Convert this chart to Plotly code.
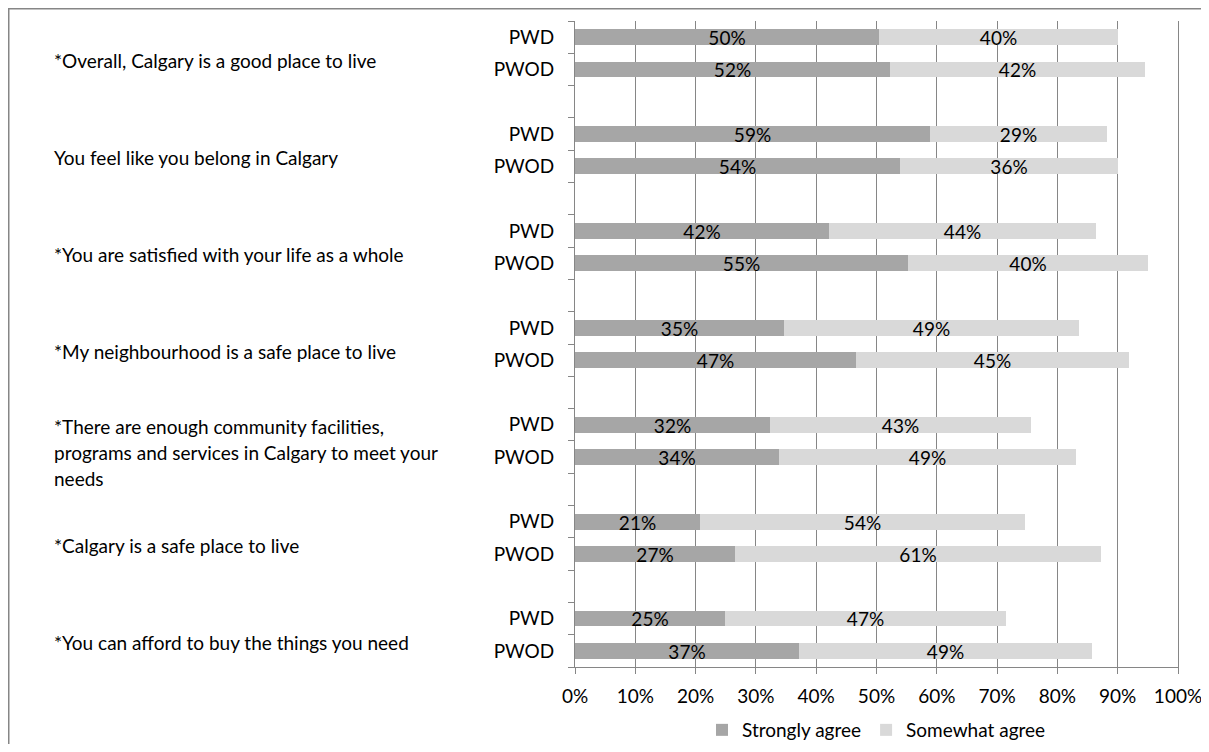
import plotly.graph_objects as go

statements = [
    "*Overall, Calgary is a good place to live",
    "You feel like you belong in Calgary",
    "*You are satisfied with your life as a whole",
    "*My neighbourhood is a safe place to live",
    "*There are enough community facilities,<br>programs and services in Calgary to meet your<br>needs",
    "*Calgary is a safe place to live",
    "*You can afford to buy the things you need",
]
groups = ["PWD", "PWOD"]
pwd_strong = [50.4, 58.8, 42.1, 34.6, 32.3, 20.8, 24.8]
pwd_somewhat = [39.7, 29.4, 44.3, 49.0, 43.4, 53.9, 46.6]
pwod_strong = [52.2, 53.9, 55.2, 46.6, 33.9, 26.6, 37.2]
pwod_somewhat = [42.3, 36.2, 39.8, 45.3, 49.2, 60.7, 48.6]
series_names = ["Strongly agree", "Somewhat agree"]
colors = ["#A6A6A6", "#D9D9D9"]
x_ticks = [0, 10, 20, 30, 40, 50, 60, 70, 80, 90, 100]

FONT = "Lato"
FS = 19
n = len(statements)
slots = 3 * n - 1

pos_pwd = [3 * g for g in range(n)]
pos_pwod = [3 * g + 1 for g in range(n)]
ys = pos_pwd + pos_pwod
strong = pwd_strong + pwod_strong
somewhat = pwd_somewhat + pwod_somewhat

fig = go.Figure()
for name, vals, col in zip(series_names, [strong, somewhat], colors):
    fig.add_trace(go.Bar(
        name=name, orientation="h", y=ys, x=vals,
        marker=dict(color=col, line=dict(width=0)), width=0.49,
        text=[f"{v:.0f}%" for v in vals], textposition="inside",
        insidetextanchor="middle", constraintext="none", textangle=0,
        textfont=dict(family=FONT, size=FS, color="black"),
    ))

tickvals = []
ticktext = []
for g in range(n):
    tickvals += [pos_pwd[g], pos_pwod[g]]
    ticktext += groups

# page body has an 8px margin, so the figure is drawn 8px in from the window edge
W, H = 1193, 736
L, R, T, B = 567, 23, 13, 77
pw = W - L - R
ph = H - T - B

annotations = []
for g, s in enumerate(statements):
    lines = s.split("<br>")
    nl = len(lines)
    yc = 3 * g + 0.73 + 0.065 * (nl - 1)
    for i, line in enumerate(lines):
        annotations.append(dict(
            text=line, xref="paper", yref="y", x=(44 - L) / pw, y=yc,
            xanchor="left", yanchor="middle", showarrow=False,
            yshift=-(i - (nl - 1) / 2) * 26,
            font=dict(family=FONT, size=FS, color="black"),
        ))

fig.update_layout(
    width=W, height=H, barmode="stack", bargap=0,
    margin=dict(l=L, r=R, t=T, b=B, autoexpand=False),
    paper_bgcolor="white", plot_bgcolor="white",
    font=dict(family=FONT, size=FS, color="black"),
    xaxis=dict(range=[0, 100], tickmode="array", tickvals=x_ticks,
               ticktext=[f"{t}%" for t in x_ticks],
               showgrid=True, gridcolor="#868686", gridwidth=1,
               showline=True, linecolor="#868686", linewidth=1,
               ticks="outside", ticklen=6, tickcolor="#868686",
               ticklabelstandoff=6, ticklabeloverflow="allow",
               zeroline=False, fixedrange=True),
    yaxis=dict(range=[slots - 0.5, -0.5], tickmode="array", tickvals=tickvals,
               ticktext=ticktext, ticks="", showgrid=False, zeroline=False,
               showline=True, mirror=True, linecolor="#868686", linewidth=1,
               ticklabelstandoff=16,
               minor=dict(tickmode="linear", tick0=-0.5, dtick=1, ticks="outside",
                          ticklen=6, tickcolor="#868686", showgrid=False)),
    legend=dict(orientation="h", x=0.5, xanchor="center", y=-(722 - (H - B)) / ph,
                yanchor="middle", traceorder="normal",
                font=dict(family=FONT, size=FS, color="black")),
    annotations=annotations,
    shapes=[
        dict(type="line", xref="paper", yref="paper",
             x0=(0 - L) / pw, x1=(W + 5 - L) / pw,
             y0=(H - B - 0.5) / ph, y1=(H - B - 0.5) / ph,
             line=dict(color="#868686", width=2)),
        dict(type="line", xref="paper", yref="paper",
             x0=(0.5 - L) / pw, x1=(0.5 - L) / pw,
             y0=(H - B) / ph, y1=-(B + 5) / ph,
             line=dict(color="#868686", width=2)),
    ],
)

fig.write_html("out.html")
